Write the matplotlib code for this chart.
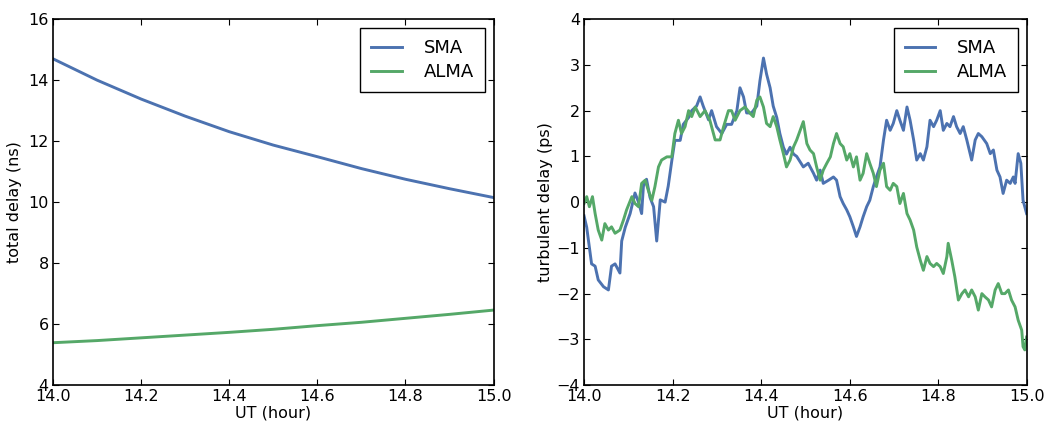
import matplotlib
matplotlib.use("Agg")
import matplotlib.pyplot as plt
import numpy as np

# ---------------- data ----------------
# Left panel: total delay (ns)
ut_total = [14.0, 14.1, 14.2, 14.3, 14.4, 14.5, 14.6, 14.7, 14.8, 14.9, 15.0]
sma_total = [14.70, 14.00, 13.38, 12.82, 12.31, 11.87, 11.49, 11.10, 10.75, 10.44, 10.15]
alma_total = [5.39, 5.46, 5.55, 5.64, 5.73, 5.83, 5.95, 6.06, 6.19, 6.32, 6.46]

# Right panel: turbulent delay (ps)
ut_sma = [14.000, 14.006, 14.017, 14.025, 14.032, 14.044, 14.055, 14.062, 14.070, 14.081,
          14.085, 14.093, 14.104, 14.115, 14.123, 14.130, 14.134, 14.141, 14.149, 14.157,
          14.164, 14.172, 14.183, 14.190, 14.198, 14.205, 14.217, 14.224, 14.236, 14.243,
          14.254, 14.262, 14.269, 14.281, 14.288, 14.299, 14.311, 14.322, 14.333, 14.345,
          14.352, 14.360, 14.367, 14.378, 14.390, 14.397, 14.405, 14.412, 14.420, 14.427,
          14.435, 14.442, 14.450, 14.457, 14.465, 14.473, 14.480,
          14.495, 14.506, 14.518, 14.525, 14.533, 14.540, 14.552, 14.563, 14.570, 14.578,
          14.585, 14.593, 14.600, 14.608, 14.615, 14.623, 14.630, 14.638, 14.645, 14.653,
          14.660, 14.668, 14.676, 14.683, 14.691, 14.698, 14.706, 14.713, 14.721, 14.729,
          14.736, 14.744, 14.751, 14.759, 14.766, 14.774, 14.781, 14.789, 14.796, 14.804,
          14.811, 14.819, 14.826, 14.834, 14.841, 14.849, 14.856, 14.864, 14.875, 14.883,
          14.890, 14.898, 14.909, 14.917, 14.924, 14.932, 14.939, 14.946, 14.954, 14.962,
          14.969, 14.973, 14.980, 14.986, 14.991, 14.999]
sma_turb = [-0.30, -0.55, -1.35, -1.40, -1.70, -1.85, -1.92, -1.40, -1.35, -1.55,
            -0.85, -0.55, -0.25, 0.20, 0.00, -0.25, 0.35, 0.50, 0.10, -0.10,
            -0.85, 0.05, 0.00, 0.35, 0.90, 1.35, 1.35, 1.70, 1.85, 2.00,
            2.10, 2.30, 2.10, 1.80, 2.00, 1.65, 1.50, 1.70, 1.70, 2.00,
            2.50, 2.30, 1.95, 1.95, 2.10, 2.65, 3.15, 2.80, 2.50, 2.10,
            1.85, 1.50, 1.20, 1.05, 1.20, 1.05, 1.00,
            0.77, 0.85, 0.63, 0.48, 0.70, 0.41, 0.48, 0.55, 0.48, 0.12,
            -0.03, -0.17, -0.32, -0.54, -0.75, -0.54, -0.32, -0.10, 0.04, 0.34,
            0.55, 0.77, 1.36, 1.79, 1.57, 1.72, 2.00, 1.79, 1.57, 2.08,
            1.79, 1.36, 0.92, 1.06, 0.92, 1.21, 1.79, 1.65, 1.79, 2.00,
            1.57, 1.72, 1.65, 1.87, 1.65, 1.50, 1.65, 1.36, 0.92, 1.36,
            1.50, 1.43, 1.28, 1.06, 1.14, 0.70, 0.55, 0.19, 0.48, 0.41,
            0.55, 0.41, 1.06, 0.85, 0.04, -0.25]

ut_alma = [14.000, 14.006, 14.012, 14.019, 14.025, 14.032, 14.040, 14.047, 14.055, 14.062,
           14.070, 14.081, 14.089, 14.096, 14.108, 14.115, 14.123, 14.130, 14.138, 14.145,
           14.153, 14.160, 14.168, 14.175, 14.187, 14.198, 14.205, 14.213, 14.220, 14.228,
           14.236, 14.243, 14.251, 14.262, 14.273, 14.284, 14.296, 14.307, 14.315, 14.326,
           14.333, 14.341, 14.352, 14.363, 14.375, 14.382, 14.390, 14.397, 14.405, 14.412,
           14.420, 14.427, 14.435, 14.442, 14.450, 14.457, 14.465, 14.473, 14.480,
           14.495, 14.503, 14.510, 14.518, 14.525, 14.533, 14.540, 14.548, 14.556, 14.563,
           14.570, 14.578, 14.585, 14.593, 14.600, 14.608, 14.615, 14.623, 14.630, 14.638,
           14.645, 14.653, 14.660, 14.668, 14.676, 14.683, 14.691, 14.698, 14.706, 14.713,
           14.721, 14.729, 14.736, 14.744, 14.751, 14.759, 14.766, 14.774, 14.781, 14.789,
           14.796, 14.804, 14.811, 14.819, 14.822, 14.830, 14.837, 14.845, 14.853, 14.860,
           14.868, 14.875, 14.883, 14.890, 14.898, 14.905, 14.913, 14.920, 14.928, 14.935,
           14.943, 14.950, 14.958, 14.965, 14.973, 14.980, 14.988, 14.991, 14.995, 14.999]
alma_turb = [-0.03, 0.12, -0.10, 0.12, -0.25, -0.61, -0.83, -0.47, -0.61, -0.54,
             -0.68, -0.61, -0.39, -0.17, 0.12, -0.03, -0.10, 0.41, 0.48, 0.26,
             0.04, 0.34, 0.77, 0.92, 0.99, 0.99, 1.50, 1.79, 1.50, 1.65,
             2.00, 1.87, 2.08, 1.87, 2.00, 1.79, 1.36, 1.36, 1.65, 2.00,
             2.00, 1.79, 2.00, 2.08, 1.94, 1.87, 2.23, 2.30, 2.08, 1.72,
             1.65, 1.87, 1.65, 1.36, 1.06, 0.77, 0.92, 1.21, 1.36,
             1.76, 1.28, 1.14, 1.06, 0.77, 0.48, 0.70, 0.85, 0.99, 1.28,
             1.50, 1.28, 1.21, 0.92, 1.06, 0.77, 0.99, 0.48, 0.63, 1.06,
             0.85, 0.63, 0.34, 0.70, 0.85, 0.34, 0.26, 0.41, 0.34, -0.03,
             0.19, -0.25, -0.39, -0.61, -0.98, -1.27, -1.49, -1.19, -1.34, -1.41,
             -1.34, -1.41, -1.56, -1.19, -0.90, -1.27, -1.63, -2.14, -2.00, -1.92,
             -2.07, -1.92, -2.07, -2.36, -2.00, -2.07, -2.14, -2.29, -1.92, -1.78,
             -2.00, -2.00, -1.92, -2.14, -2.29, -2.58, -2.80, -3.16, -3.23, -2.95]

x_ticks = [14.0, 14.2, 14.4, 14.6, 14.8, 15.0]
left_yticks = [4, 6, 8, 10, 12, 14, 16]
right_yticks = [-4, -3, -2, -1, 0, 1, 2, 3, 4]

# ---------------- style ----------------
BLUE = "#4C72B0"
GREEN = "#55A868"
plt.rcParams['font.family'] = ['DejaVu Sans']
TICK_FS = 11.5
LABEL_FS = 11.5
LEG_FS = 13

fig = plt.figure(figsize=(10.48, 4.26), dpi=100)
ax1 = fig.add_axes([0.0506, 0.096, 0.4204, 0.859])
ax2 = fig.add_axes([0.5573, 0.096, 0.4227, 0.859])


def style_axes(ax):
    ax.tick_params(direction='in', which='both', top=True, right=True,
                   length=4.5, width=0.8, labelsize=TICK_FS, pad=3)
    for sp in ax.spines.values():
        sp.set_linewidth(1.2)
        sp.set_color('black')


ax1.plot(ut_total, sma_total, color=BLUE, lw=2.1, label='SMA')
ax1.plot(ut_total, alma_total, color=GREEN, lw=2.1, label='ALMA')
ax1.set_xlim(14.0, 15.0)
ax1.set_ylim(4, 16)
ax1.set_xticks(x_ticks)
ax1.set_xticklabels([f"{t:.1f}" for t in x_ticks])
ax1.set_yticks(left_yticks)
ax1.set_xlabel('UT (hour)', fontsize=LABEL_FS, labelpad=1)
ax1.set_ylabel('total delay (ns)', fontsize=LABEL_FS, labelpad=5)
style_axes(ax1)

ax2.plot(ut_sma, sma_turb, color=BLUE, lw=2.1, label='SMA')
ax2.plot(ut_alma, alma_turb, color=GREEN, lw=2.1, label='ALMA')
ax2.set_xlim(14.0, 15.0)
ax2.set_ylim(-4, 4)
ax2.set_xticks(x_ticks)
ax2.set_xticklabels([f"{t:.1f}" for t in x_ticks])
ax2.set_yticks(right_yticks)
ax2.set_xlabel('UT (hour)', fontsize=LABEL_FS, labelpad=1)
ax2.set_ylabel('turbulent delay (ps)', fontsize=LABEL_FS, labelpad=2)
style_axes(ax2)

for ax in (ax1, ax2):
    leg = ax.legend(loc='upper right', fontsize=LEG_FS, fancybox=False,
                    framealpha=1, edgecolor='black', handlelength=1.7,
                    handletextpad=1.2, borderpad=0.6, labelspacing=0.35,
                    borderaxespad=0.5)
    leg.get_frame().set_linewidth(1.0)

fig.savefig('out.png', dpi=100, facecolor='white')
